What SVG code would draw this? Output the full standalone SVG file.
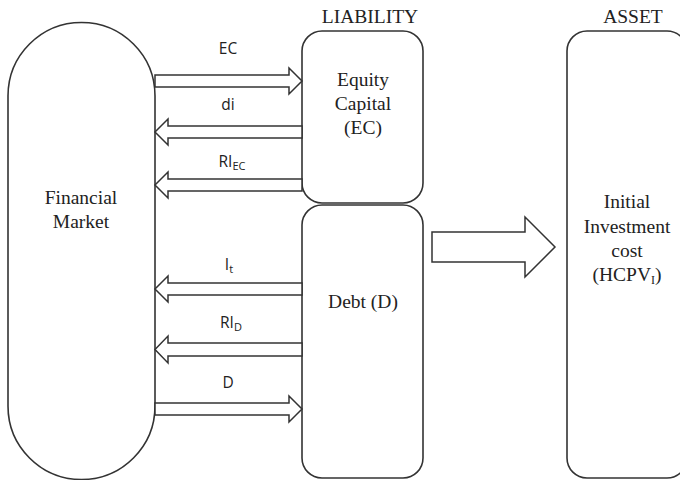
<svg xmlns="http://www.w3.org/2000/svg" width="680" height="480" viewBox="0 0 680 480">
<style>
.shape{fill:#fff;stroke:#333;stroke-width:1.6}
.arr{fill:#fff;stroke:#333;stroke-width:1.5;stroke-linejoin:miter}
.serif{font-family:"Liberation Serif","Times New Roman",serif;font-size:19.5px;fill:#222;text-anchor:middle}
.sans{font-family:"Open Sans","Noto Sans","Liberation Sans",sans-serif;font-size:15.5px;fill:#222;text-anchor:middle}
.sub{font-size:11px}
.ssub{font-size:12px}
</style>
<rect width="680" height="480" fill="#fff"/>
<g id="financial-market">
<path class="shape" d="M8,96 A73.5,73.5 0 0 1 155,96 L155,406 A73.5,73.5 0 0 1 8,406 Z"/>
<text class="serif" x="81" y="204">Financial</text>
<text class="serif" x="81" y="228">Market</text>
</g>
<g id="liability-label"><text class="serif" x="370" y="23">LIABILITY</text></g>
<g id="asset-label"><text class="serif" x="633" y="23">ASSET</text></g>
<g id="equity-capital">
<rect class="shape" x="302" y="31" width="121" height="172" rx="20"/>
<text class="serif" x="363" y="86">Equity</text>
<text class="serif" x="363" y="110">Capital</text>
<text class="serif" x="363" y="134">(EC)</text>
</g>
<g id="debt">
<rect class="shape" x="302" y="205" width="121" height="273" rx="20"/>
<text class="serif" x="363" y="308">Debt (D)</text>
</g>
<g id="asset">
<rect class="shape" x="567" y="31" width="120" height="447" rx="20"/>
<text class="serif" x="627" y="208">Initial</text>
<text class="serif" x="627" y="233">Investment</text>
<text class="serif" x="627" y="257">cost</text>
<text class="serif" x="627" y="281">(HCPV<tspan class="ssub" dy="3">I</tspan><tspan dy="-3">)</tspan></text>
</g>
<g id="connectors">
<path class="arr" d="M155,75 L289,75 L289,68 L302,81 L289,94 L289,87 L155,87 Z"/>
<path class="arr" d="M302,126 L168,126 L168,119 L155,132 L168,145 L168,138 L302,138 Z"/>
<path class="arr" d="M302,179 L168,179 L168,172 L155,185 L168,198 L168,191 L302,191 Z"/>
<path class="arr" d="M302,283 L168,283 L168,276 L155,289 L168,302 L168,295 L302,295 Z"/>
<path class="arr" d="M302,343 L168,343 L168,336 L155,349.5 L168,363 L168,356 L302,356 Z"/>
<path class="arr" d="M155,403 L289,403 L289,396 L302,409 L289,422 L289,415 L155,415 Z"/>
<path class="arr" d="M432,232 L525,232 L525,217 L555,247 L525,277 L525,262 L432,262 Z"/>
<text class="sans" x="228" y="54">EC</text>
<text class="sans" x="228" y="110">di</text>
<text class="sans" x="232" y="167">RI<tspan class="sub" dy="3">EC</tspan></text>
<text class="sans" x="229" y="270">I<tspan class="sub" dy="3">t</tspan></text>
<text class="sans" x="231" y="328">RI<tspan class="sub" dy="3">D</tspan></text>
<text class="sans" x="228" y="388">D</text>
</g>
</svg>
